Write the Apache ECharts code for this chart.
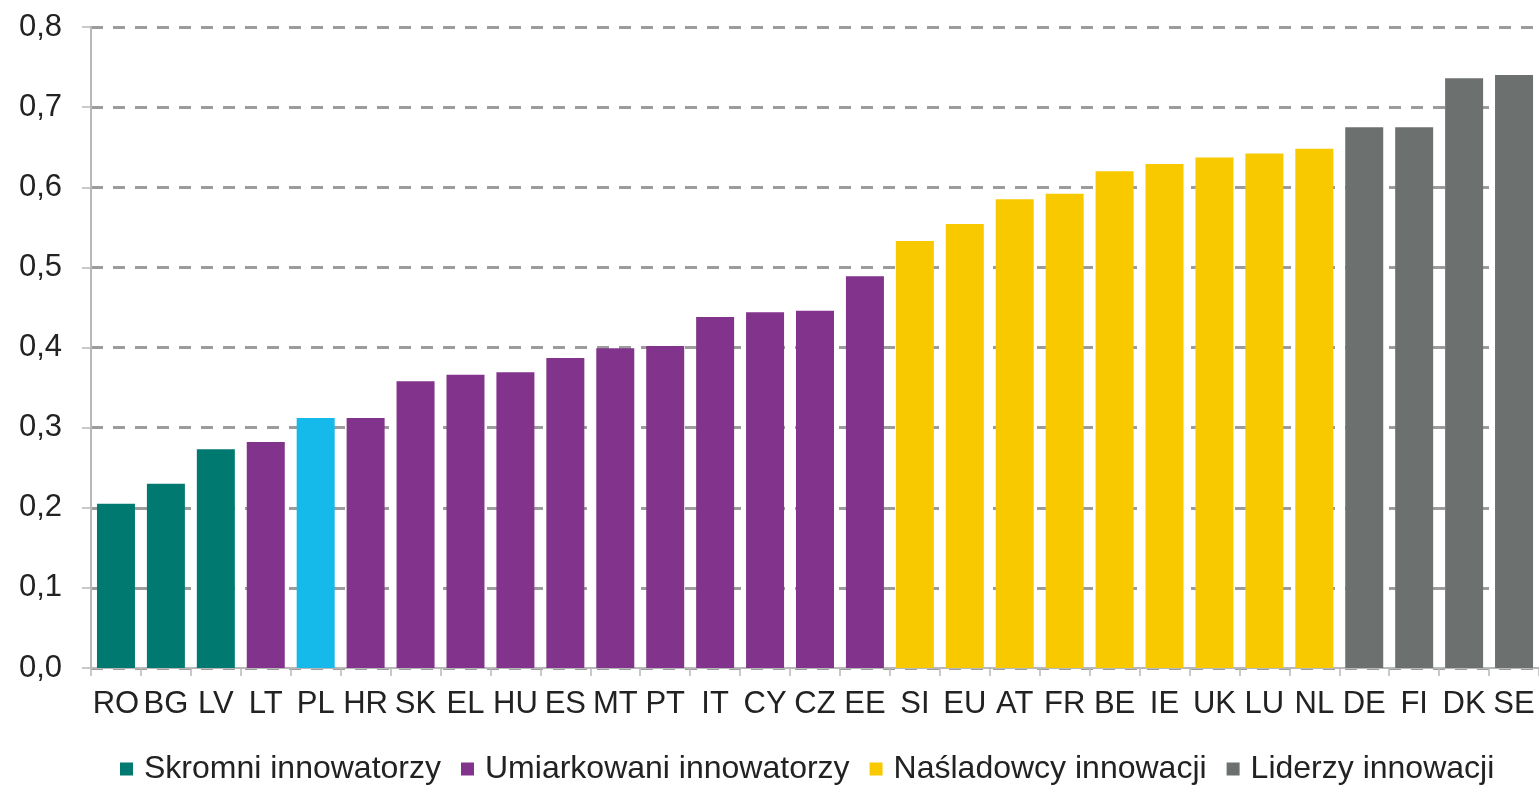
<!DOCTYPE html>
<html><head><meta charset="utf-8">
<script src="https://cdn.jsdelivr.net/npm/echarts@6/dist/echarts.min.js"></script>
<style>html,body{margin:0;padding:0;background:#fff}#c{width:1539px;height:786px}</style>
</head><body><div id="c"></div>
<script>
const categories = ['RO','BG','LV','LT','PL','HR','SK','EL','HU','ES','MT','PT','IT','CY','CZ','EE','SI','EU','AT','FR','BE','IE','UK','LU','NL','DE','FI','DK','SE'];
const values = [0.205,0.230,0.273,0.282,0.312,0.312,0.358,0.366,0.369,0.387,0.399,0.402,0.438,0.444,0.446,0.489,0.533,0.554,0.585,0.592,0.620,0.629,0.637,0.642,0.648,0.675,0.675,0.736,0.740];
const groupOf = [0,0,0,1,1,1,1,1,1,1,1,1,1,1,1,1,2,2,2,2,2,2,2,2,2,3,3,3,3];
const groupNames = ['Skromni innowatorzy','Umiarkowani innowatorzy','Naśladowcy innowacji','Liderzy innowacji'];
const groupColors = ['#007a70','#82338b','#f9c900','#6c7170'];
const highlight = 'PL';
const highlightColor = '#15b9ea';

const series = groupNames.map((name, g) => ({
  name, type: 'bar', stack: 'all', barWidth: 38,
  itemStyle: { color: groupColors[g] },
  data: values.map((v, i) => groupOf[i] !== g ? '-' :
    (categories[i] === highlight ? { value: v, itemStyle: { color: highlightColor } } : v))
}));

const FONT = 'Liberation Sans, Arial, sans-serif';
const chart = echarts.init(document.getElementById('c'));
chart.setOption({
  animation: false,
  textStyle: { fontFamily: FONT },
  grid: { left: 91, right: -2, top: 27, bottom: 118, containLabel: false },
  legend: {
    top: 748, left: 115, itemWidth: 13, itemHeight: 13, itemGap: 20,
    icon: 'rect',
    textStyle: { fontSize: 32, color: '#222', fontFamily: FONT, padding: [0,0,0,6] },
    data: groupNames
  },
  xAxis: {
    type: 'category', data: categories,
    axisLine: { lineStyle: { color: '#b8b8b8', width: 2 } },
    axisTick: { show: true, length: 8, lineStyle: { color: '#b8b8b8', width: 1.5 } },
    axisLabel: { interval: 0, fontSize: 31, color: '#222', margin: 21 }
  },
  yAxis: {
    type: 'value', min: 0, max: 0.8, interval: 0.1,
    axisLine: { show: true, lineStyle: { color: '#b8b8b8', width: 2 } },
    axisTick: { show: true, length: 9, lineStyle: { color: '#b8b8b8', width: 1.5 } },
    axisLabel: { fontSize: 31, color: '#222', margin: 29,
      formatter: v => v.toFixed(1).replace('.', ',') },
    splitLine: { lineStyle: { color: '#9c9c9c', type: [12, 10], width: 3 } }
  },
  series
});
</script></body></html>
